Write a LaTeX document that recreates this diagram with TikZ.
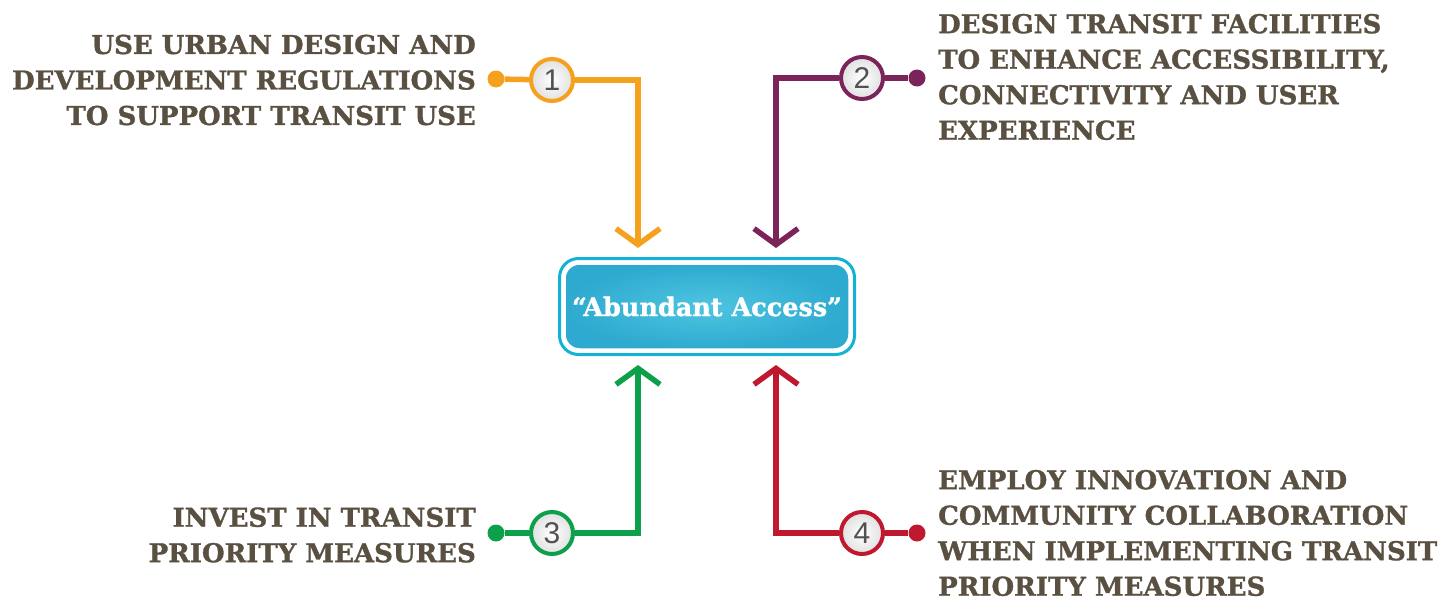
\documentclass[tikz,border=0pt]{standalone}
\usepackage{fontspec}
\setmainfont{DejaVu Serif}
\newfontfamily\numfont{Liberation Sans}
\newfontfamily\heavyfont[FakeBold=1.2]{DejaVu Serif Bold}
\usetikzlibrary{arrows.meta}
\definecolor{txtc}{RGB}{89,80,66}
\definecolor{orc}{RGB}{246,161,30}
\definecolor{puc}{RGB}{122,36,90}
\definecolor{grc}{RGB}{12,160,74}
\definecolor{rdc}{RGB}{192,24,47}
\definecolor{cyc}{RGB}{18,178,214}
\definecolor{boxin}{RGB}{78,196,224}
\definecolor{boxout}{RGB}{46,170,208}
\tikzset{
  numcirc/.style={circle, draw=#1, line width=4pt, minimum size=42pt, inner sep=0pt,
    inner color=white, outer color=black!12, text=black!68,
    font=\numfont\fontsize{30}{30}\selectfont},
  enddot/.style={circle, fill=#1, minimum size=17pt, inner sep=0pt},
  conn/.style={draw=#1, line width=5.5pt},
  chev/.style={-{Straight Barb[length=16pt,width=44pt,line width=5.5pt]}},
  lbl/.style={text=txtc, inner sep=0pt, font=\heavyfont\fontsize{26}{35.5}\selectfont}
}
\begin{document}
\begin{tikzpicture}[x=1pt,y=-1pt]
\useasboundingbox (0,0) rectangle (1447,602);
% central box
\node[rounded corners=15pt, inner color=boxin, outer color=boxout, draw=white, line width=2.5pt,
  minimum width=285pt, minimum height=86pt, text=white,
  font=\heavyfont\fontsize{25.5}{25.5}\selectfont] (box) at (707,306.5) {“Abundant Access”};
\draw[cyc, line width=3pt, rounded corners=19pt] (559.5,258.5) rectangle (854.5,354.5);
% circles and dots
\node[enddot=orc] (d1) at (496,79) {};
\node[enddot=puc] (d2) at (917,78) {};
\node[enddot=grc] (d3) at (496,533) {};
\node[enddot=rdc] (d4) at (917,533) {};
\coordinate (t1) at (638,248);
\coordinate (t2) at (776,248);
\coordinate (t3) at (638,365);
\coordinate (t4) at (776,365);
\node[numcirc=orc] (c1) at (552,80) {1};
\node[numcirc=puc] (c2) at (862,78) {2};
\node[numcirc=grc] (c3) at (552,533) {3};
\node[numcirc=rdc] (c4) at (862,533) {4};
% connectors
\draw[conn=orc] (d1) -- (c1);
\draw[conn=orc, chev] (c1.east) -| (t1);
\draw[conn=puc] (d2) -- (c2);
\draw[conn=puc, chev] (c2.west) -| (t2);
\draw[conn=grc] (d3) -- (c3);
\draw[conn=grc, chev] (c3.east) -| (t3);
\draw[conn=rdc] (d4) -- (c4);
\draw[conn=rdc, chev] (c4.west) -| (t4);
% labels
\node[lbl, anchor=east, align=right] (l1) at (476,80) {USE URBAN DESIGN AND\\DEVELOPMENT REGULATIONS\\TO SUPPORT TRANSIT USE};
\node[lbl, anchor=west, align=left] (l2) at (938,77) {DESIGN TRANSIT FACILITIES\\TO ENHANCE ACCESSIBILITY,\\CONNECTIVITY AND USER\\EXPERIENCE};
\node[lbl, anchor=east, align=right] (l3) at (476,535) {INVEST IN TRANSIT\\PRIORITY MEASURES};
\node[lbl, anchor=west, align=left] (l4) at (938,533) {EMPLOY INNOVATION AND\\COMMUNITY COLLABORATION\\WHEN IMPLEMENTING TRANSIT\\PRIORITY MEASURES};
\end{tikzpicture}
\end{document}
